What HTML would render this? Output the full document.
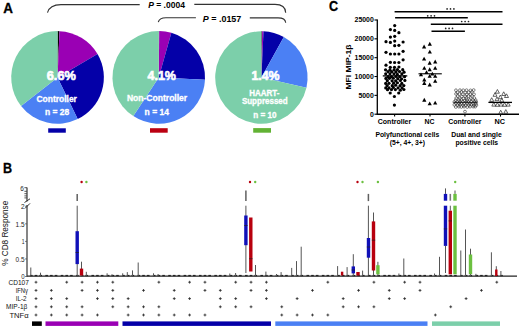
<!DOCTYPE html><html><head><meta charset="utf-8"><style>html,body{margin:0;padding:0;background:#fff;width:520px;height:330px;overflow:hidden}svg{display:block}</style></head><body><svg width="520" height="330" viewBox="0 0 520 330" font-family='"Liberation Sans", sans-serif'>
<rect width="520" height="330" fill="#fff"/>
<text x="3.3" y="12.7" font-size="14.6" text-anchor="start" font-weight="bold" fill="#000" textLength="9.7" lengthAdjust="spacingAndGlyphs" stroke="#000" stroke-width="0.3">A</text>
<path d="M47.5,12.7 C49,7 53,4.6 61,4.6 L139.7,4.6" fill="none" stroke="#333" stroke-width="1.1"/>
<path d="M194.3,4.4 L275,4.4 C281,4.4 285.5,7 285.7,12.7" fill="none" stroke="#333" stroke-width="1.1"/>
<path d="M158.3,22.2 C159,19 161,17.7 166,17.7 L195.9,17.7" fill="none" stroke="#333" stroke-width="1.1"/>
<path d="M249.8,17.9 L278,17.9 C283,17.9 285.5,20 285.7,22.8" fill="none" stroke="#333" stroke-width="1.1"/>
<text x="148.2" y="7.8" font-size="8.5" font-weight="bold" textLength="36.7" lengthAdjust="spacingAndGlyphs"><tspan font-style="italic">P</tspan> = .0004</text>
<text x="202.8" y="22.2" font-size="8.5" font-weight="bold" textLength="38.5" lengthAdjust="spacingAndGlyphs"><tspan font-style="italic">P</tspan> = .0157</text>
<path d="M57.55,77.40 L57.55,31.10 A46.3,46.3 0 0 1 59.49,31.14 Z" fill="#000"/>
<path d="M57.55,77.40 L59.49,31.14 A46.3,46.3 0 0 1 97.53,54.04 Z" fill="#9A00B4"/>
<path d="M57.55,77.40 L97.53,54.04 A46.3,46.3 0 0 1 77.70,119.08 Z" fill="#0400A8"/>
<path d="M57.55,77.40 L77.70,119.08 A46.3,46.3 0 0 1 21.07,105.91 Z" fill="#4B80F4"/>
<path d="M57.55,77.40 L21.07,105.91 A46.3,46.3 0 0 1 57.55,31.10 Z" fill="#7CCFAA"/>
<path d="M158.75,77.40 L158.75,31.10 A46.3,46.3 0 0 1 159.23,31.10 Z" fill="#222"/>
<path d="M158.75,77.40 L159.23,31.10 A46.3,46.3 0 0 1 171.36,32.85 Z" fill="#9A00B4"/>
<path d="M158.75,77.40 L171.36,32.85 A46.3,46.3 0 0 1 204.99,79.82 Z" fill="#0400A8"/>
<path d="M158.75,77.40 L204.99,79.82 A46.3,46.3 0 0 1 133.33,116.10 Z" fill="#4B80F4"/>
<path d="M158.75,77.40 L133.33,116.10 A46.3,46.3 0 0 1 158.75,31.10 Z" fill="#7CCFAA"/>
<path d="M261.40,77.50 L261.40,31.30 A46.2,46.2 0 0 1 262.13,31.31 Z" fill="#000"/>
<path d="M261.40,77.50 L262.13,31.31 A46.2,46.2 0 0 1 263.50,31.35 Z" fill="#9A00B4"/>
<path d="M261.40,77.50 L263.50,31.35 A46.2,46.2 0 0 1 283.80,37.09 Z" fill="#0400A8"/>
<path d="M261.40,77.50 L283.80,37.09 A46.2,46.2 0 0 1 306.45,87.74 Z" fill="#4B80F4"/>
<path d="M261.40,77.50 L306.45,87.74 A46.2,46.2 0 1 1 261.40,31.30 Z" fill="#7CCFAA"/>
<text x="46.8" y="79.9" font-size="13.5" text-anchor="start" font-weight="bold" fill="#fff" textLength="29" lengthAdjust="spacingAndGlyphs" stroke="#fff" stroke-width="0.65">6.6%</text>
<text x="36.5" y="101.5" font-size="8.5" text-anchor="start" font-weight="bold" fill="#fff" textLength="40.4" lengthAdjust="spacingAndGlyphs" stroke="#fff" stroke-width="0.3">Controller</text>
<text x="45" y="115.4" font-size="8.5" text-anchor="start" font-weight="bold" fill="#fff" textLength="24.2" lengthAdjust="spacingAndGlyphs" stroke="#fff" stroke-width="0.3">n = 28</text>
<text x="147.5" y="79.5" font-size="13.5" text-anchor="start" font-weight="bold" fill="#fff" textLength="28.4" lengthAdjust="spacingAndGlyphs" stroke="#fff" stroke-width="0.65">4.1%</text>
<text x="126.9" y="101.2" font-size="8.5" text-anchor="start" font-weight="bold" fill="#fff" textLength="60.3" lengthAdjust="spacingAndGlyphs" stroke="#fff" stroke-width="0.3">Non-Controller</text>
<text x="144.6" y="115" font-size="8.5" text-anchor="start" font-weight="bold" fill="#fff" textLength="24.3" lengthAdjust="spacingAndGlyphs" stroke="#fff" stroke-width="0.3">n = 14</text>
<text x="251.4" y="79.5" font-size="13.5" text-anchor="start" font-weight="bold" fill="#fff" textLength="28.1" lengthAdjust="spacingAndGlyphs" stroke="#fff" stroke-width="0.65">1.4%</text>
<text x="249.2" y="95.9" font-size="8.5" text-anchor="start" font-weight="bold" fill="#fff" textLength="30.3" lengthAdjust="spacingAndGlyphs" stroke="#fff" stroke-width="0.3">HAART-</text>
<text x="241.9" y="104.1" font-size="8.5" text-anchor="start" font-weight="bold" fill="#fff" textLength="45.8" lengthAdjust="spacingAndGlyphs" stroke="#fff" stroke-width="0.3">Suppressed</text>
<text x="253.2" y="118" font-size="8.5" text-anchor="start" font-weight="bold" fill="#fff" textLength="23.3" lengthAdjust="spacingAndGlyphs" stroke="#fff" stroke-width="0.3">n = 10</text>
<rect x="48.2" y="128.3" width="17.6" height="4.4" fill="#0400A8"/>
<rect x="150" y="128.2" width="17.7" height="4.5" fill="#BB0012"/>
<rect x="253.2" y="128.1" width="17.8" height="4.6" fill="#62B234"/>
<text x="328.9" y="11.3" font-size="14.4" text-anchor="start" font-weight="bold" fill="#000" textLength="9.1" lengthAdjust="spacingAndGlyphs" stroke="#000" stroke-width="0.3">C</text>
<line x1="377.3" y1="19.5" x2="377.3" y2="114.6" stroke="#000" stroke-width="1.3"/>
<line x1="376.7" y1="114.2" x2="519" y2="114.2" stroke="#000" stroke-width="1.4"/>
<line x1="374.5" y1="114.20" x2="377.3" y2="114.20" stroke="#000" stroke-width="1.1"/>
<text x="373.8" y="116.5" font-size="6.6" text-anchor="end" font-weight="bold" fill="#000" textLength="3.85" lengthAdjust="spacingAndGlyphs" >0</text>
<line x1="374.5" y1="95.36" x2="377.3" y2="95.36" stroke="#000" stroke-width="1.1"/>
<text x="373.8" y="97.66" font-size="6.6" text-anchor="end" font-weight="bold" fill="#000" textLength="15.4" lengthAdjust="spacingAndGlyphs" >5000</text>
<line x1="374.5" y1="76.52" x2="377.3" y2="76.52" stroke="#000" stroke-width="1.1"/>
<text x="373.8" y="78.82000000000001" font-size="6.6" text-anchor="end" font-weight="bold" fill="#000" textLength="19.25" lengthAdjust="spacingAndGlyphs" >10000</text>
<line x1="374.5" y1="57.68" x2="377.3" y2="57.68" stroke="#000" stroke-width="1.1"/>
<text x="373.8" y="59.98" font-size="6.6" text-anchor="end" font-weight="bold" fill="#000" textLength="19.25" lengthAdjust="spacingAndGlyphs" >15000</text>
<line x1="374.5" y1="38.84" x2="377.3" y2="38.84" stroke="#000" stroke-width="1.1"/>
<text x="373.8" y="41.14" font-size="6.6" text-anchor="end" font-weight="bold" fill="#000" textLength="19.25" lengthAdjust="spacingAndGlyphs" >20000</text>
<line x1="374.5" y1="20.00" x2="377.3" y2="20.00" stroke="#000" stroke-width="1.1"/>
<text x="373.8" y="22.3" font-size="6.6" text-anchor="end" font-weight="bold" fill="#000" textLength="19.25" lengthAdjust="spacingAndGlyphs" >25000</text>
<line x1="394.6" y1="114.2" x2="394.6" y2="116.6" stroke="#000" stroke-width="1.1"/>
<line x1="430" y1="114.2" x2="430" y2="116.6" stroke="#000" stroke-width="1.1"/>
<line x1="464.9" y1="114.2" x2="464.9" y2="116.6" stroke="#000" stroke-width="1.1"/>
<line x1="500.5" y1="114.2" x2="500.5" y2="116.6" stroke="#000" stroke-width="1.1"/>
<text x="350.6" y="67" font-size="7.4" text-anchor="middle" font-weight="bold" fill="#000" textLength="45" lengthAdjust="spacingAndGlyphs" transform="rotate(-90 350.6 67)">MFI  MIP-1β</text>
<text x="394.5" y="123.5" font-size="7" text-anchor="middle" font-weight="bold" fill="#000" textLength="33.5" lengthAdjust="spacingAndGlyphs" >Controller</text>
<text x="429.6" y="123.5" font-size="7" text-anchor="middle" font-weight="bold" fill="#000" textLength="10" lengthAdjust="spacingAndGlyphs" >NC</text>
<text x="464.9" y="123.6" font-size="7" text-anchor="middle" font-weight="bold" fill="#000" textLength="33.3" lengthAdjust="spacingAndGlyphs" >Controller</text>
<text x="499.8" y="123.6" font-size="7" text-anchor="middle" font-weight="bold" fill="#000" textLength="10.5" lengthAdjust="spacingAndGlyphs" >NC</text>
<text x="407.3" y="137" font-size="7" text-anchor="middle" font-weight="bold" fill="#000" textLength="63.8" lengthAdjust="spacingAndGlyphs" >Polyfunctional cells</text>
<text x="407.3" y="144.6" font-size="7" text-anchor="middle" font-weight="bold" fill="#000" textLength="35.3" lengthAdjust="spacingAndGlyphs" >(5+, 4+, 3+)</text>
<text x="476.5" y="136.9" font-size="7" text-anchor="middle" font-weight="bold" fill="#000" textLength="50.5" lengthAdjust="spacingAndGlyphs" >Dual and single</text>
<text x="476.8" y="144.6" font-size="7" text-anchor="middle" font-weight="bold" fill="#000" textLength="42.7" lengthAdjust="spacingAndGlyphs" >positive cells</text>
<line x1="394.6" y1="11.8" x2="502.5" y2="11.8" stroke="#000" stroke-width="1.5"/>
<circle cx="447.10" cy="8.9" r="0.85" fill="#222"/>
<circle cx="450.50" cy="8.9" r="0.85" fill="#222"/>
<circle cx="453.90" cy="8.9" r="0.85" fill="#222"/>
<line x1="395.1" y1="17.8" x2="467.8" y2="17.8" stroke="#000" stroke-width="1.5"/>
<circle cx="427.70" cy="15.8" r="0.85" fill="#222"/>
<circle cx="431.10" cy="15.8" r="0.85" fill="#222"/>
<circle cx="434.50" cy="15.8" r="0.85" fill="#222"/>
<line x1="430.8" y1="24.2" x2="502.5" y2="24.2" stroke="#000" stroke-width="1.5"/>
<circle cx="461.70" cy="21.5" r="0.85" fill="#222"/>
<circle cx="465.10" cy="21.5" r="0.85" fill="#222"/>
<circle cx="468.50" cy="21.5" r="0.85" fill="#222"/>
<line x1="431.5" y1="31.2" x2="464.9" y2="31.2" stroke="#000" stroke-width="1.5"/>
<circle cx="445.70" cy="28.4" r="0.85" fill="#222"/>
<circle cx="449.10" cy="28.4" r="0.85" fill="#222"/>
<circle cx="452.50" cy="28.4" r="0.85" fill="#222"/>
<circle cx="394.70" cy="25.60" r="1.6" fill="#000"/>
<circle cx="390.40" cy="29.60" r="1.6" fill="#000"/>
<circle cx="394.70" cy="30.40" r="1.6" fill="#000"/>
<circle cx="398.90" cy="32.70" r="1.6" fill="#000"/>
<circle cx="390.40" cy="37.10" r="1.6" fill="#000"/>
<circle cx="394.70" cy="36.30" r="1.6" fill="#000"/>
<circle cx="386.00" cy="41.70" r="1.6" fill="#000"/>
<circle cx="390.40" cy="42.40" r="1.6" fill="#000"/>
<circle cx="394.70" cy="41.10" r="1.6" fill="#000"/>
<circle cx="403.10" cy="42.00" r="1.6" fill="#000"/>
<circle cx="394.70" cy="45.70" r="1.6" fill="#000"/>
<circle cx="398.90" cy="45.30" r="1.6" fill="#000"/>
<circle cx="386.00" cy="52.30" r="1.6" fill="#000"/>
<circle cx="390.40" cy="54.00" r="1.6" fill="#000"/>
<circle cx="394.70" cy="54.00" r="1.6" fill="#000"/>
<circle cx="398.90" cy="54.00" r="1.6" fill="#000"/>
<circle cx="403.10" cy="51.30" r="1.6" fill="#000"/>
<circle cx="390.40" cy="62.30" r="1.6" fill="#000"/>
<circle cx="394.60" cy="62.50" r="1.6" fill="#000"/>
<circle cx="398.90" cy="62.50" r="1.6" fill="#000"/>
<circle cx="403.10" cy="59.80" r="1.6" fill="#000"/>
<circle cx="386.00" cy="65.20" r="1.6" fill="#000"/>
<circle cx="390.30" cy="67.30" r="1.6" fill="#000"/>
<circle cx="394.50" cy="67.30" r="1.6" fill="#000"/>
<circle cx="398.90" cy="67.00" r="1.6" fill="#000"/>
<circle cx="390.20" cy="93.00" r="1.6" fill="#000"/>
<circle cx="398.70" cy="93.00" r="1.6" fill="#000"/>
<circle cx="394.40" cy="96.50" r="1.6" fill="#000"/>
<circle cx="394.40" cy="105.10" r="1.6" fill="#000"/>
<circle cx="385.55" cy="69.79" r="1.6" fill="#000"/>
<circle cx="389.95" cy="69.95" r="1.6" fill="#000"/>
<circle cx="394.09" cy="69.94" r="1.6" fill="#000"/>
<circle cx="397.43" cy="69.57" r="1.6" fill="#000"/>
<circle cx="402.73" cy="69.72" r="1.6" fill="#000"/>
<circle cx="387.98" cy="71.54" r="1.6" fill="#000"/>
<circle cx="391.66" cy="71.65" r="1.6" fill="#000"/>
<circle cx="395.95" cy="71.91" r="1.6" fill="#000"/>
<circle cx="399.52" cy="71.62" r="1.6" fill="#000"/>
<circle cx="404.04" cy="72.18" r="1.6" fill="#000"/>
<circle cx="385.72" cy="73.83" r="1.6" fill="#000"/>
<circle cx="389.96" cy="73.81" r="1.6" fill="#000"/>
<circle cx="393.94" cy="73.80" r="1.6" fill="#000"/>
<circle cx="397.40" cy="74.40" r="1.6" fill="#000"/>
<circle cx="401.85" cy="73.87" r="1.6" fill="#000"/>
<circle cx="388.08" cy="76.65" r="1.6" fill="#000"/>
<circle cx="391.45" cy="76.72" r="1.6" fill="#000"/>
<circle cx="395.95" cy="76.49" r="1.6" fill="#000"/>
<circle cx="399.75" cy="76.70" r="1.6" fill="#000"/>
<circle cx="404.53" cy="76.72" r="1.6" fill="#000"/>
<circle cx="385.87" cy="78.44" r="1.6" fill="#000"/>
<circle cx="389.43" cy="78.33" r="1.6" fill="#000"/>
<circle cx="393.37" cy="78.25" r="1.6" fill="#000"/>
<circle cx="397.76" cy="78.68" r="1.6" fill="#000"/>
<circle cx="401.60" cy="78.74" r="1.6" fill="#000"/>
<circle cx="387.31" cy="80.70" r="1.6" fill="#000"/>
<circle cx="392.08" cy="80.83" r="1.6" fill="#000"/>
<circle cx="395.68" cy="80.83" r="1.6" fill="#000"/>
<circle cx="400.35" cy="80.50" r="1.6" fill="#000"/>
<circle cx="404.87" cy="80.47" r="1.6" fill="#000"/>
<circle cx="385.70" cy="83.38" r="1.6" fill="#000"/>
<circle cx="389.02" cy="83.33" r="1.6" fill="#000"/>
<circle cx="393.64" cy="83.16" r="1.6" fill="#000"/>
<circle cx="397.41" cy="82.74" r="1.6" fill="#000"/>
<circle cx="401.82" cy="83.46" r="1.6" fill="#000"/>
<circle cx="387.14" cy="85.55" r="1.6" fill="#000"/>
<circle cx="392.22" cy="85.70" r="1.6" fill="#000"/>
<circle cx="395.71" cy="85.23" r="1.6" fill="#000"/>
<circle cx="400.13" cy="85.57" r="1.6" fill="#000"/>
<circle cx="403.83" cy="85.55" r="1.6" fill="#000"/>
<circle cx="385.76" cy="87.89" r="1.6" fill="#000"/>
<circle cx="389.04" cy="87.96" r="1.6" fill="#000"/>
<circle cx="393.31" cy="87.47" r="1.6" fill="#000"/>
<circle cx="398.13" cy="87.93" r="1.6" fill="#000"/>
<circle cx="402.01" cy="87.94" r="1.6" fill="#000"/>
<circle cx="387.55" cy="89.70" r="1.6" fill="#000"/>
<circle cx="391.48" cy="89.59" r="1.6" fill="#000"/>
<circle cx="395.39" cy="89.57" r="1.6" fill="#000"/>
<circle cx="400.33" cy="90.25" r="1.6" fill="#000"/>
<circle cx="403.89" cy="89.49" r="1.6" fill="#000"/>
<line x1="382.8" y1="75.9" x2="407.3" y2="75.9" stroke="#000" stroke-width="1.3"/>
<path d="M429.80,41.80 L431.90,45.68 L427.70,45.68 Z" fill="#000"/>
<path d="M424.10,44.50 L426.20,48.38 L422.00,48.38 Z" fill="#000"/>
<path d="M429.80,49.70 L431.90,53.58 L427.70,53.58 Z" fill="#000"/>
<path d="M424.10,56.70 L426.20,60.58 L422.00,60.58 Z" fill="#000"/>
<path d="M429.70,60.80 L431.80,64.69 L427.60,64.69 Z" fill="#000"/>
<path d="M435.20,59.60 L437.30,63.48 L433.10,63.48 Z" fill="#000"/>
<path d="M424.30,65.90 L426.40,69.78 L422.20,69.78 Z" fill="#000"/>
<path d="M429.70,67.30 L431.80,71.19 L427.60,71.19 Z" fill="#000"/>
<path d="M435.20,65.90 L437.30,69.78 L433.10,69.78 Z" fill="#000"/>
<path d="M426.50,70.20 L428.60,74.08 L424.40,74.08 Z" fill="#000"/>
<path d="M432.30,71.70 L434.40,75.58 L430.20,75.58 Z" fill="#000"/>
<path d="M429.70,73.90 L431.80,77.78 L427.60,77.78 Z" fill="#000"/>
<path d="M435.20,73.90 L437.30,77.78 L433.10,77.78 Z" fill="#000"/>
<path d="M424.30,77.50 L426.40,81.38 L422.20,81.38 Z" fill="#000"/>
<path d="M435.20,78.90 L437.30,82.78 L433.10,82.78 Z" fill="#000"/>
<path d="M424.30,81.10 L426.40,84.98 L422.20,84.98 Z" fill="#000"/>
<path d="M429.70,82.60 L431.80,86.48 L427.60,86.48 Z" fill="#000"/>
<path d="M424.30,97.80 L426.40,101.69 L422.20,101.69 Z" fill="#000"/>
<path d="M429.70,101.40 L431.80,105.28 L427.60,105.28 Z" fill="#000"/>
<path d="M435.20,100.70 L437.30,104.58 L433.10,104.58 Z" fill="#000"/>
<path d="M421.00,72.40 L423.10,76.28 L418.90,76.28 Z" fill="#000"/>
<line x1="418.5" y1="73.8" x2="441.8" y2="73.8" stroke="#000" stroke-width="1.1"/>
<circle cx="455.96" cy="90.24" r="1.4" fill="none" stroke="#333" stroke-width="0.6"/>
<circle cx="459.94" cy="90.18" r="1.4" fill="none" stroke="#333" stroke-width="0.6"/>
<circle cx="463.21" cy="90.25" r="1.4" fill="none" stroke="#333" stroke-width="0.6"/>
<circle cx="466.55" cy="90.21" r="1.4" fill="none" stroke="#333" stroke-width="0.6"/>
<circle cx="470.50" cy="90.38" r="1.4" fill="none" stroke="#333" stroke-width="0.6"/>
<circle cx="473.68" cy="90.08" r="1.4" fill="none" stroke="#333" stroke-width="0.6"/>
<circle cx="457.47" cy="92.39" r="1.4" fill="none" stroke="#333" stroke-width="0.6"/>
<circle cx="461.55" cy="91.93" r="1.4" fill="none" stroke="#333" stroke-width="0.6"/>
<circle cx="465.39" cy="92.48" r="1.4" fill="none" stroke="#333" stroke-width="0.6"/>
<circle cx="468.72" cy="92.27" r="1.4" fill="none" stroke="#333" stroke-width="0.6"/>
<circle cx="471.93" cy="91.91" r="1.4" fill="none" stroke="#333" stroke-width="0.6"/>
<circle cx="456.02" cy="93.94" r="1.4" fill="none" stroke="#333" stroke-width="0.6"/>
<circle cx="459.35" cy="94.05" r="1.4" fill="none" stroke="#333" stroke-width="0.6"/>
<circle cx="462.82" cy="94.18" r="1.4" fill="none" stroke="#333" stroke-width="0.6"/>
<circle cx="466.75" cy="94.41" r="1.4" fill="none" stroke="#333" stroke-width="0.6"/>
<circle cx="470.42" cy="94.28" r="1.4" fill="none" stroke="#333" stroke-width="0.6"/>
<circle cx="474.00" cy="94.30" r="1.4" fill="none" stroke="#333" stroke-width="0.6"/>
<circle cx="457.77" cy="96.07" r="1.4" fill="none" stroke="#333" stroke-width="0.6"/>
<circle cx="461.80" cy="96.50" r="1.4" fill="none" stroke="#333" stroke-width="0.6"/>
<circle cx="465.27" cy="96.32" r="1.4" fill="none" stroke="#333" stroke-width="0.6"/>
<circle cx="468.45" cy="96.04" r="1.4" fill="none" stroke="#333" stroke-width="0.6"/>
<circle cx="472.03" cy="95.94" r="1.4" fill="none" stroke="#333" stroke-width="0.6"/>
<circle cx="456.21" cy="98.14" r="1.4" fill="none" stroke="#333" stroke-width="0.6"/>
<circle cx="459.88" cy="98.13" r="1.4" fill="none" stroke="#333" stroke-width="0.6"/>
<circle cx="463.57" cy="98.41" r="1.4" fill="none" stroke="#333" stroke-width="0.6"/>
<circle cx="466.40" cy="98.03" r="1.4" fill="none" stroke="#333" stroke-width="0.6"/>
<circle cx="470.73" cy="98.18" r="1.4" fill="none" stroke="#333" stroke-width="0.6"/>
<circle cx="474.38" cy="98.14" r="1.4" fill="none" stroke="#333" stroke-width="0.6"/>
<circle cx="455.66" cy="100.28" r="1.4" fill="none" stroke="#333" stroke-width="0.6"/>
<circle cx="459.02" cy="100.06" r="1.4" fill="none" stroke="#333" stroke-width="0.6"/>
<circle cx="461.27" cy="100.10" r="1.4" fill="none" stroke="#333" stroke-width="0.6"/>
<circle cx="464.77" cy="100.35" r="1.4" fill="none" stroke="#333" stroke-width="0.6"/>
<circle cx="466.89" cy="100.05" r="1.4" fill="none" stroke="#333" stroke-width="0.6"/>
<circle cx="469.68" cy="99.94" r="1.4" fill="none" stroke="#333" stroke-width="0.6"/>
<circle cx="473.04" cy="100.01" r="1.4" fill="none" stroke="#333" stroke-width="0.6"/>
<circle cx="475.65" cy="100.17" r="1.4" fill="none" stroke="#333" stroke-width="0.6"/>
<circle cx="454.35" cy="101.94" r="1.4" fill="none" stroke="#333" stroke-width="0.6"/>
<circle cx="457.10" cy="101.89" r="1.4" fill="none" stroke="#333" stroke-width="0.6"/>
<circle cx="459.89" cy="101.75" r="1.4" fill="none" stroke="#333" stroke-width="0.6"/>
<circle cx="462.77" cy="101.66" r="1.4" fill="none" stroke="#333" stroke-width="0.6"/>
<circle cx="466.18" cy="101.98" r="1.4" fill="none" stroke="#333" stroke-width="0.6"/>
<circle cx="468.44" cy="102.03" r="1.4" fill="none" stroke="#333" stroke-width="0.6"/>
<circle cx="471.17" cy="101.74" r="1.4" fill="none" stroke="#333" stroke-width="0.6"/>
<circle cx="474.48" cy="101.89" r="1.4" fill="none" stroke="#333" stroke-width="0.6"/>
<circle cx="476.28" cy="102.09" r="1.4" fill="none" stroke="#333" stroke-width="0.6"/>
<circle cx="455.77" cy="103.25" r="1.4" fill="none" stroke="#333" stroke-width="0.6"/>
<circle cx="459.02" cy="103.30" r="1.4" fill="none" stroke="#333" stroke-width="0.6"/>
<circle cx="461.44" cy="103.14" r="1.4" fill="none" stroke="#333" stroke-width="0.6"/>
<circle cx="464.07" cy="103.45" r="1.4" fill="none" stroke="#333" stroke-width="0.6"/>
<circle cx="466.99" cy="103.46" r="1.4" fill="none" stroke="#333" stroke-width="0.6"/>
<circle cx="469.90" cy="103.37" r="1.4" fill="none" stroke="#333" stroke-width="0.6"/>
<circle cx="473.17" cy="103.39" r="1.4" fill="none" stroke="#333" stroke-width="0.6"/>
<circle cx="475.66" cy="103.62" r="1.4" fill="none" stroke="#333" stroke-width="0.6"/>
<circle cx="454.35" cy="104.79" r="1.4" fill="none" stroke="#333" stroke-width="0.6"/>
<circle cx="457.73" cy="105.19" r="1.4" fill="none" stroke="#333" stroke-width="0.6"/>
<circle cx="460.00" cy="104.81" r="1.4" fill="none" stroke="#333" stroke-width="0.6"/>
<circle cx="463.19" cy="105.26" r="1.4" fill="none" stroke="#333" stroke-width="0.6"/>
<circle cx="465.56" cy="105.27" r="1.4" fill="none" stroke="#333" stroke-width="0.6"/>
<circle cx="468.91" cy="105.06" r="1.4" fill="none" stroke="#333" stroke-width="0.6"/>
<circle cx="471.34" cy="104.76" r="1.4" fill="none" stroke="#333" stroke-width="0.6"/>
<circle cx="473.83" cy="105.28" r="1.4" fill="none" stroke="#333" stroke-width="0.6"/>
<circle cx="476.39" cy="105.12" r="1.4" fill="none" stroke="#333" stroke-width="0.6"/>
<circle cx="455.81" cy="106.99" r="1.4" fill="none" stroke="#333" stroke-width="0.6"/>
<circle cx="458.88" cy="106.68" r="1.4" fill="none" stroke="#333" stroke-width="0.6"/>
<circle cx="461.34" cy="106.93" r="1.4" fill="none" stroke="#333" stroke-width="0.6"/>
<circle cx="464.06" cy="106.64" r="1.4" fill="none" stroke="#333" stroke-width="0.6"/>
<circle cx="467.25" cy="107.01" r="1.4" fill="none" stroke="#333" stroke-width="0.6"/>
<circle cx="470.09" cy="106.67" r="1.4" fill="none" stroke="#333" stroke-width="0.6"/>
<circle cx="473.13" cy="106.62" r="1.4" fill="none" stroke="#333" stroke-width="0.6"/>
<circle cx="475.21" cy="106.66" r="1.4" fill="none" stroke="#333" stroke-width="0.6"/>
<circle cx="465.00" cy="111.60" r="1.4" fill="none" stroke="#333" stroke-width="0.6"/>
<line x1="453.5" y1="102.4" x2="477" y2="102.4" stroke="#222" stroke-width="1.0"/>
<path d="M497.40,89.50 L499.40,93.20 L495.40,93.20 Z" fill="none" stroke="#333" stroke-width="0.75"/>
<path d="M495.00,92.60 L497.00,96.30 L493.00,96.30 Z" fill="none" stroke="#333" stroke-width="0.75"/>
<path d="M503.70,91.80 L505.70,95.50 L501.70,95.50 Z" fill="none" stroke="#333" stroke-width="0.75"/>
<path d="M506.50,93.80 L508.50,97.50 L504.50,97.50 Z" fill="none" stroke="#333" stroke-width="0.75"/>
<path d="M500.30,95.00 L502.30,98.70 L498.30,98.70 Z" fill="none" stroke="#333" stroke-width="0.75"/>
<path d="M491.70,97.70 L493.70,101.40 L489.70,101.40 Z" fill="none" stroke="#333" stroke-width="0.75"/>
<path d="M501.80,98.20 L503.80,101.90 L499.80,101.90 Z" fill="none" stroke="#333" stroke-width="0.75"/>
<path d="M497.00,97.00 L499.00,100.70 L495.00,100.70 Z" fill="none" stroke="#333" stroke-width="0.75"/>
<path d="M493.80,102.40 L495.80,106.10 L491.80,106.10 Z" fill="none" stroke="#333" stroke-width="0.75"/>
<path d="M497.40,102.60 L499.40,106.30 L495.40,106.30 Z" fill="none" stroke="#333" stroke-width="0.75"/>
<path d="M501.00,102.40 L503.00,106.10 L499.00,106.10 Z" fill="none" stroke="#333" stroke-width="0.75"/>
<path d="M504.60,102.60 L506.60,106.30 L502.60,106.30 Z" fill="none" stroke="#333" stroke-width="0.75"/>
<path d="M508.20,102.40 L510.20,106.10 L506.20,106.10 Z" fill="none" stroke="#333" stroke-width="0.75"/>
<path d="M500.70,110.20 L502.70,113.90 L498.70,113.90 Z" fill="none" stroke="#333" stroke-width="0.75"/>
<path d="M505.80,109.60 L507.80,113.30 L503.80,113.30 Z" fill="none" stroke="#333" stroke-width="0.75"/>
<line x1="488.4" y1="102.4" x2="512" y2="102.4" stroke="#000" stroke-width="1.3"/>
<text x="3.0" y="172.7" font-size="14.4" text-anchor="start" font-weight="bold" fill="#000" textLength="9.1" lengthAdjust="spacingAndGlyphs" stroke="#000" stroke-width="0.3">B</text>
<text x="7.8" y="233.3" font-size="8.8" text-anchor="middle" font-weight="normal" fill="#111" textLength="65" lengthAdjust="spacingAndGlyphs" transform="rotate(-90 7.8 233.3)">% CD8 Response</text>
<line x1="27" y1="187.5" x2="27" y2="201.5" stroke="#444" stroke-width="1.3"/>
<line x1="27" y1="205" x2="27" y2="276.5" stroke="#444" stroke-width="1.3"/>
<line x1="24.4" y1="187.7" x2="27" y2="187.7" stroke="#444" stroke-width="0.9"/>
<line x1="24.4" y1="191.3" x2="27" y2="191.3" stroke="#444" stroke-width="0.9"/>
<line x1="24.4" y1="193.7" x2="27" y2="193.7" stroke="#444" stroke-width="0.9"/>
<line x1="24.4" y1="195.9" x2="27" y2="195.9" stroke="#444" stroke-width="0.9"/>
<line x1="24.4" y1="197.9" x2="27" y2="197.9" stroke="#444" stroke-width="0.9"/>
<line x1="24.5" y1="202.5" x2="30" y2="198.8" stroke="#333" stroke-width="1"/>
<line x1="25" y1="208.4" x2="30" y2="203.4" stroke="#333" stroke-width="1"/>
<line x1="25.2" y1="276.50" x2="27" y2="276.50" stroke="#555" stroke-width="0.9"/>
<text x="24.6" y="279.2" font-size="7.6" text-anchor="end" font-weight="normal" fill="#222" textLength="3.4" lengthAdjust="spacingAndGlyphs" >0</text>
<line x1="25.2" y1="258.95" x2="27" y2="258.95" stroke="#555" stroke-width="0.9"/>
<text x="24.6" y="261.65" font-size="7.6" text-anchor="end" font-weight="normal" fill="#222" textLength="9" lengthAdjust="spacingAndGlyphs" >0.5</text>
<line x1="25.2" y1="241.40" x2="27" y2="241.40" stroke="#555" stroke-width="0.9"/>
<text x="24.6" y="244.1" font-size="7.6" text-anchor="end" font-weight="normal" fill="#222" textLength="2.8" lengthAdjust="spacingAndGlyphs" >1</text>
<line x1="25.2" y1="223.85" x2="27" y2="223.85" stroke="#555" stroke-width="0.9"/>
<text x="24.6" y="226.54999999999998" font-size="7.6" text-anchor="end" font-weight="normal" fill="#222" textLength="9" lengthAdjust="spacingAndGlyphs" >1.5</text>
<line x1="25.2" y1="206.30" x2="27" y2="206.30" stroke="#555" stroke-width="0.9"/>
<text x="24.6" y="209.0" font-size="7.6" text-anchor="end" font-weight="normal" fill="#222" textLength="3.6" lengthAdjust="spacingAndGlyphs" >2</text>
<text x="23.8" y="190.6" font-size="7.6" text-anchor="end" font-weight="normal" fill="#222" textLength="3.6" lengthAdjust="spacingAndGlyphs" >6</text>
<line x1="27" y1="276.1" x2="517" y2="276.1" stroke="#222" stroke-width="1.3"/>
<rect x="30.00" y="274.9" width="2.6" height="1.3" fill="#222"/>
<rect x="34.70" y="274.9" width="2.6" height="1.3" fill="#222"/>
<rect x="39.40" y="274.9" width="2.6" height="1.3" fill="#222"/>
<rect x="45.36" y="274.9" width="2.6" height="1.3" fill="#222"/>
<rect x="50.06" y="274.9" width="2.6" height="1.3" fill="#222"/>
<rect x="54.76" y="274.9" width="2.6" height="1.3" fill="#222"/>
<rect x="60.72" y="274.9" width="2.6" height="1.3" fill="#222"/>
<rect x="65.42" y="274.9" width="2.6" height="1.3" fill="#222"/>
<rect x="70.12" y="274.9" width="2.6" height="1.3" fill="#222"/>
<rect x="76.08" y="274.9" width="2.6" height="1.3" fill="#222"/>
<rect x="80.78" y="274.9" width="2.6" height="1.3" fill="#222"/>
<rect x="85.48" y="274.9" width="2.6" height="1.3" fill="#222"/>
<rect x="91.44" y="274.9" width="2.6" height="1.3" fill="#222"/>
<rect x="96.14" y="274.9" width="2.6" height="1.3" fill="#222"/>
<rect x="100.84" y="274.9" width="2.6" height="1.3" fill="#222"/>
<rect x="106.80" y="274.9" width="2.6" height="1.3" fill="#222"/>
<rect x="111.50" y="274.9" width="2.6" height="1.3" fill="#222"/>
<rect x="116.20" y="274.9" width="2.6" height="1.3" fill="#222"/>
<rect x="122.16" y="274.9" width="2.6" height="1.3" fill="#222"/>
<rect x="126.86" y="274.9" width="2.6" height="1.3" fill="#222"/>
<rect x="131.56" y="274.9" width="2.6" height="1.3" fill="#222"/>
<rect x="137.52" y="274.9" width="2.6" height="1.3" fill="#222"/>
<rect x="142.22" y="274.9" width="2.6" height="1.3" fill="#222"/>
<rect x="146.92" y="274.9" width="2.6" height="1.3" fill="#222"/>
<rect x="152.88" y="274.9" width="2.6" height="1.3" fill="#222"/>
<rect x="157.58" y="274.9" width="2.6" height="1.3" fill="#222"/>
<rect x="162.28" y="274.9" width="2.6" height="1.3" fill="#222"/>
<rect x="168.24" y="274.9" width="2.6" height="1.3" fill="#222"/>
<rect x="172.94" y="274.9" width="2.6" height="1.3" fill="#222"/>
<rect x="177.64" y="274.9" width="2.6" height="1.3" fill="#222"/>
<rect x="183.60" y="274.9" width="2.6" height="1.3" fill="#222"/>
<rect x="188.30" y="274.9" width="2.6" height="1.3" fill="#222"/>
<rect x="193.00" y="274.9" width="2.6" height="1.3" fill="#222"/>
<rect x="198.96" y="274.9" width="2.6" height="1.3" fill="#222"/>
<rect x="203.66" y="274.9" width="2.6" height="1.3" fill="#222"/>
<rect x="208.36" y="274.9" width="2.6" height="1.3" fill="#222"/>
<rect x="214.32" y="274.9" width="2.6" height="1.3" fill="#222"/>
<rect x="219.02" y="274.9" width="2.6" height="1.3" fill="#222"/>
<rect x="223.72" y="274.9" width="2.6" height="1.3" fill="#222"/>
<rect x="229.68" y="274.9" width="2.6" height="1.3" fill="#222"/>
<rect x="234.38" y="274.9" width="2.6" height="1.3" fill="#222"/>
<rect x="239.08" y="274.9" width="2.6" height="1.3" fill="#222"/>
<rect x="245.04" y="274.9" width="2.6" height="1.3" fill="#222"/>
<rect x="249.74" y="274.9" width="2.6" height="1.3" fill="#222"/>
<rect x="254.44" y="274.9" width="2.6" height="1.3" fill="#222"/>
<rect x="260.40" y="274.9" width="2.6" height="1.3" fill="#222"/>
<rect x="265.10" y="274.9" width="2.6" height="1.3" fill="#222"/>
<rect x="269.80" y="274.9" width="2.6" height="1.3" fill="#222"/>
<rect x="275.76" y="274.9" width="2.6" height="1.3" fill="#222"/>
<rect x="280.46" y="274.9" width="2.6" height="1.3" fill="#222"/>
<rect x="285.16" y="274.9" width="2.6" height="1.3" fill="#222"/>
<rect x="291.12" y="274.9" width="2.6" height="1.3" fill="#222"/>
<rect x="295.82" y="274.9" width="2.6" height="1.3" fill="#222"/>
<rect x="300.52" y="274.9" width="2.6" height="1.3" fill="#222"/>
<rect x="306.48" y="274.9" width="2.6" height="1.3" fill="#222"/>
<rect x="311.18" y="274.9" width="2.6" height="1.3" fill="#222"/>
<rect x="315.88" y="274.9" width="2.6" height="1.3" fill="#222"/>
<rect x="321.84" y="274.9" width="2.6" height="1.3" fill="#222"/>
<rect x="326.54" y="274.9" width="2.6" height="1.3" fill="#222"/>
<rect x="331.24" y="274.9" width="2.6" height="1.3" fill="#222"/>
<rect x="337.20" y="274.9" width="2.6" height="1.3" fill="#222"/>
<rect x="341.90" y="274.9" width="2.6" height="1.3" fill="#222"/>
<rect x="346.60" y="274.9" width="2.6" height="1.3" fill="#222"/>
<rect x="352.56" y="274.9" width="2.6" height="1.3" fill="#222"/>
<rect x="357.26" y="274.9" width="2.6" height="1.3" fill="#222"/>
<rect x="361.96" y="274.9" width="2.6" height="1.3" fill="#222"/>
<rect x="367.92" y="274.9" width="2.6" height="1.3" fill="#222"/>
<rect x="372.62" y="274.9" width="2.6" height="1.3" fill="#222"/>
<rect x="377.32" y="274.9" width="2.6" height="1.3" fill="#222"/>
<rect x="383.28" y="274.9" width="2.6" height="1.3" fill="#222"/>
<rect x="387.98" y="274.9" width="2.6" height="1.3" fill="#222"/>
<rect x="392.68" y="274.9" width="2.6" height="1.3" fill="#222"/>
<rect x="398.64" y="274.9" width="2.6" height="1.3" fill="#222"/>
<rect x="403.34" y="274.9" width="2.6" height="1.3" fill="#222"/>
<rect x="408.04" y="274.9" width="2.6" height="1.3" fill="#222"/>
<rect x="414.00" y="274.9" width="2.6" height="1.3" fill="#222"/>
<rect x="418.70" y="274.9" width="2.6" height="1.3" fill="#222"/>
<rect x="423.40" y="274.9" width="2.6" height="1.3" fill="#222"/>
<rect x="429.36" y="274.9" width="2.6" height="1.3" fill="#222"/>
<rect x="434.06" y="274.9" width="2.6" height="1.3" fill="#222"/>
<rect x="438.76" y="274.9" width="2.6" height="1.3" fill="#222"/>
<rect x="444.72" y="274.9" width="2.6" height="1.3" fill="#222"/>
<rect x="449.42" y="274.9" width="2.6" height="1.3" fill="#222"/>
<rect x="454.12" y="274.9" width="2.6" height="1.3" fill="#222"/>
<rect x="460.08" y="274.9" width="2.6" height="1.3" fill="#222"/>
<rect x="464.78" y="274.9" width="2.6" height="1.3" fill="#222"/>
<rect x="469.48" y="274.9" width="2.6" height="1.3" fill="#222"/>
<rect x="475.44" y="274.9" width="2.6" height="1.3" fill="#222"/>
<rect x="480.14" y="274.9" width="2.6" height="1.3" fill="#222"/>
<rect x="484.84" y="274.9" width="2.6" height="1.3" fill="#222"/>
<rect x="490.80" y="274.9" width="2.6" height="1.3" fill="#222"/>
<rect x="495.50" y="274.9" width="2.6" height="1.3" fill="#222"/>
<rect x="500.20" y="274.9" width="2.6" height="1.3" fill="#222"/>
<line x1="30.8" y1="267.5" x2="30.8" y2="276" stroke="#555" stroke-width="1.0"/>
<line x1="40.5" y1="272.7" x2="40.5" y2="276" stroke="#555" stroke-width="1.0"/>
<line x1="86.3" y1="271.8" x2="86.3" y2="276" stroke="#555" stroke-width="1.0"/>
<line x1="107.1" y1="273.3" x2="107.1" y2="276" stroke="#555" stroke-width="1.0"/>
<line x1="112" y1="274.3" x2="112" y2="276" stroke="#555" stroke-width="1.0"/>
<line x1="122.7" y1="273.3" x2="122.7" y2="276" stroke="#555" stroke-width="1.0"/>
<line x1="127.3" y1="272.1" x2="127.3" y2="276" stroke="#555" stroke-width="1.0"/>
<line x1="132.5" y1="270.4" x2="132.5" y2="276" stroke="#555" stroke-width="1.0"/>
<line x1="138.2" y1="262.5" x2="138.2" y2="276" stroke="#555" stroke-width="1.0"/>
<line x1="153.5" y1="273.3" x2="153.5" y2="276" stroke="#555" stroke-width="1.0"/>
<line x1="158.1" y1="274" x2="158.1" y2="276" stroke="#555" stroke-width="1.0"/>
<line x1="229.8" y1="273.5" x2="229.8" y2="276" stroke="#555" stroke-width="1.0"/>
<line x1="235.6" y1="273" x2="235.6" y2="276" stroke="#555" stroke-width="1.0"/>
<line x1="255.5" y1="265" x2="255.5" y2="276" stroke="#555" stroke-width="1.0"/>
<line x1="265.9" y1="271.6" x2="265.9" y2="276" stroke="#555" stroke-width="1.0"/>
<line x1="276.5" y1="274" x2="276.5" y2="276" stroke="#555" stroke-width="1.0"/>
<line x1="281.1" y1="272.1" x2="281.1" y2="276" stroke="#555" stroke-width="1.0"/>
<line x1="291.7" y1="267.9" x2="291.7" y2="276" stroke="#555" stroke-width="1.0"/>
<line x1="296.5" y1="261.1" x2="296.5" y2="276" stroke="#555" stroke-width="1.0"/>
<line x1="301.2" y1="246.7" x2="301.2" y2="276" stroke="#555" stroke-width="1.0"/>
<line x1="337.6" y1="266.1" x2="337.6" y2="276" stroke="#555" stroke-width="1.0"/>
<line x1="347.1" y1="267.1" x2="347.1" y2="276" stroke="#555" stroke-width="1.0"/>
<line x1="362.6" y1="270.6" x2="362.6" y2="276" stroke="#555" stroke-width="1.0"/>
<line x1="398.9" y1="273.5" x2="398.9" y2="276" stroke="#555" stroke-width="1.0"/>
<line x1="403.8" y1="258.5" x2="403.8" y2="276" stroke="#555" stroke-width="1.0"/>
<line x1="434.5" y1="273.5" x2="434.5" y2="276" stroke="#555" stroke-width="1.0"/>
<line x1="439.5" y1="256.8" x2="439.5" y2="276" stroke="#555" stroke-width="1.0"/>
<line x1="460.8" y1="250.5" x2="460.8" y2="276" stroke="#555" stroke-width="1.0"/>
<line x1="465.5" y1="229.5" x2="465.5" y2="276" stroke="#555" stroke-width="1.0"/>
<line x1="475.9" y1="273.8" x2="475.9" y2="276" stroke="#555" stroke-width="1.0"/>
<line x1="491.4" y1="252.3" x2="491.4" y2="276" stroke="#555" stroke-width="1.0"/>
<line x1="500.9" y1="271" x2="500.9" y2="276" stroke="#555" stroke-width="1.0"/>
<line x1="77.2" y1="193.9" x2="77.2" y2="200.9" stroke="#606060" stroke-width="1.5"/>
<line x1="77.2" y1="205.7" x2="77.2" y2="276" stroke="#555" stroke-width="1.0"/>
<rect x="75.50" y="231.2" width="3.4" height="32.90" fill="#1010B8"/>
<line x1="75.50" y1="252.5" x2="78.90" y2="252.5" stroke="#222" stroke-width="0.7"/>
<line x1="81.5" y1="261.7" x2="81.5" y2="276" stroke="#555" stroke-width="1.0"/>
<rect x="79.80" y="268.6" width="3.4" height="6.90" fill="#B8000E"/>
<line x1="245.9" y1="190.5" x2="245.9" y2="201.1" stroke="#606060" stroke-width="1.5"/>
<line x1="245.9" y1="205.7" x2="245.9" y2="273" stroke="#555" stroke-width="1.0"/>
<rect x="244.20" y="215.5" width="3.4" height="29.70" fill="#1010B8"/>
<line x1="244.20" y1="225.5" x2="247.60" y2="225.5" stroke="#222" stroke-width="0.7"/>
<rect x="249.10" y="217.5" width="3.4" height="54.00" fill="#B8000E"/>
<line x1="249.10" y1="258.7" x2="252.50" y2="258.7" stroke="#222" stroke-width="0.7"/>
<line x1="353.3" y1="254.2" x2="353.3" y2="276" stroke="#555" stroke-width="1.0"/>
<rect x="351.60" y="266.4" width="3.4" height="7.00" fill="#1010B8"/>
<line x1="351.60" y1="270" x2="355.00" y2="270" stroke="#222" stroke-width="0.7"/>
<rect x="356.30" y="272" width="3.4" height="3.50" fill="#B8000E"/>
<line x1="368.4" y1="193.9" x2="368.4" y2="201.1" stroke="#606060" stroke-width="1.5"/>
<line x1="368.4" y1="205.7" x2="368.4" y2="275.5" stroke="#555" stroke-width="1.0"/>
<rect x="366.80" y="238" width="3.4" height="19.70" fill="#1010B8"/>
<line x1="366.80" y1="247" x2="370.20" y2="247" stroke="#222" stroke-width="0.7"/>
<line x1="373.5" y1="212.5" x2="373.5" y2="275.5" stroke="#555" stroke-width="1.0"/>
<rect x="371.80" y="221.4" width="3.4" height="49.10" fill="#B8000E"/>
<line x1="371.80" y1="240.2" x2="375.20" y2="240.2" stroke="#222" stroke-width="0.7"/>
<line x1="377.9" y1="261.8" x2="377.9" y2="276" stroke="#555" stroke-width="1.0"/>
<rect x="376.20" y="265.2" width="3.4" height="9.10" fill="#6CC040"/>
<rect x="340.90" y="271.7" width="2.4" height="3.80" fill="#B8000E"/>
<line x1="445.5" y1="188.4" x2="445.5" y2="193.9" stroke="#555" stroke-width="1.0"/>
<rect x="443.80" y="193.9" width="3.4" height="6.80" fill="#1010B8"/>
<rect x="443.80" y="205.7" width="3.4" height="40.20" fill="#1010B8"/>
<line x1="443.80" y1="228.9" x2="447.20" y2="228.9" stroke="#222" stroke-width="0.7"/>
<line x1="445.5" y1="245.9" x2="445.5" y2="273" stroke="#555" stroke-width="1.0"/>
<line x1="450.3" y1="193.9" x2="450.3" y2="200.7" stroke="#777" stroke-width="1.6"/>
<line x1="450.3" y1="205.7" x2="450.3" y2="210.7" stroke="#555" stroke-width="1.0"/>
<rect x="448.60" y="210.7" width="3.4" height="63.60" fill="#B8000E"/>
<line x1="448.60" y1="220.9" x2="452.00" y2="220.9" stroke="#222" stroke-width="0.7"/>
<line x1="455" y1="190.5" x2="455" y2="193.9" stroke="#555" stroke-width="1.0"/>
<rect x="453.30" y="193.9" width="3.4" height="6.80" fill="#6CC040"/>
<rect x="453.30" y="205.7" width="3.4" height="68.60" fill="#6CC040"/>
<line x1="470.5" y1="248.7" x2="470.5" y2="276" stroke="#555" stroke-width="1.0"/>
<rect x="468.80" y="254.5" width="3.4" height="19.70" fill="#6CC040"/>
<line x1="496.3" y1="266.2" x2="496.3" y2="276" stroke="#555" stroke-width="1.0"/>
<rect x="495.10" y="269.5" width="2.4" height="6.50" fill="#B8000E"/>
<circle cx="81.6" cy="182" r="1.2" fill="#B8000E"/>
<circle cx="86.4" cy="182" r="1.2" fill="#6CC040"/>
<circle cx="250" cy="182" r="1.2" fill="#B8000E"/>
<circle cx="255.2" cy="182" r="1.2" fill="#6CC040"/>
<circle cx="357.5" cy="182" r="1.2" fill="#B8000E"/>
<circle cx="362.5" cy="182" r="1.2" fill="#6CC040"/>
<circle cx="377.9" cy="182" r="1.2" fill="#6CC040"/>
<circle cx="455.2" cy="182" r="1.2" fill="#6CC040"/>
<text x="28.9" y="284.7" font-size="6.9" text-anchor="end" font-weight="normal" fill="#111" textLength="20.4" lengthAdjust="spacingAndGlyphs" >CD107</text>
<text x="28" y="292.9" font-size="6.9" text-anchor="end" font-weight="normal" fill="#111" textLength="12.3" lengthAdjust="spacingAndGlyphs" >IFNγ</text>
<text x="26.6" y="301.1" font-size="6.9" text-anchor="end" font-weight="normal" fill="#111" textLength="10.9" lengthAdjust="spacingAndGlyphs" >IL-2</text>
<text x="27.3" y="309.3" font-size="6.9" text-anchor="end" font-weight="normal" fill="#111" textLength="21.2" lengthAdjust="spacingAndGlyphs" >MIP-1β</text>
<text x="28.6" y="317.5" font-size="6.9" text-anchor="end" font-weight="normal" fill="#111" textLength="19.1" lengthAdjust="spacingAndGlyphs" >TNFα</text>
<path d="M34.60,282.2 H37.40 M36.00,280.8 V283.59999999999997" stroke="#222" stroke-width="0.8"/>
<path d="M34.60,290.4 H37.40 M36.00,289.0 V291.79999999999995" stroke="#222" stroke-width="0.8"/>
<path d="M34.60,298.6 H37.40 M36.00,297.20000000000005 V300.0" stroke="#222" stroke-width="0.8"/>
<path d="M34.60,306.8 H37.40 M36.00,305.40000000000003 V308.2" stroke="#222" stroke-width="0.8"/>
<path d="M34.60,315 H37.40 M36.00,313.6 V316.4" stroke="#222" stroke-width="0.8"/>
<path d="M49.96,290.4 H52.76 M51.36,289.0 V291.79999999999995" stroke="#222" stroke-width="0.8"/>
<path d="M49.96,298.6 H52.76 M51.36,297.20000000000005 V300.0" stroke="#222" stroke-width="0.8"/>
<path d="M49.96,306.8 H52.76 M51.36,305.40000000000003 V308.2" stroke="#222" stroke-width="0.8"/>
<path d="M49.96,315 H52.76 M51.36,313.6 V316.4" stroke="#222" stroke-width="0.8"/>
<path d="M65.32,282.2 H68.12 M66.72,280.8 V283.59999999999997" stroke="#222" stroke-width="0.8"/>
<path d="M65.32,298.6 H68.12 M66.72,297.20000000000005 V300.0" stroke="#222" stroke-width="0.8"/>
<path d="M65.32,306.8 H68.12 M66.72,305.40000000000003 V308.2" stroke="#222" stroke-width="0.8"/>
<path d="M65.32,315 H68.12 M66.72,313.6 V316.4" stroke="#222" stroke-width="0.8"/>
<path d="M80.68,282.2 H83.48 M82.08,280.8 V283.59999999999997" stroke="#222" stroke-width="0.8"/>
<path d="M80.68,290.4 H83.48 M82.08,289.0 V291.79999999999995" stroke="#222" stroke-width="0.8"/>
<path d="M80.68,306.8 H83.48 M82.08,305.40000000000003 V308.2" stroke="#222" stroke-width="0.8"/>
<path d="M80.68,315 H83.48 M82.08,313.6 V316.4" stroke="#222" stroke-width="0.8"/>
<path d="M96.04,282.2 H98.84 M97.44,280.8 V283.59999999999997" stroke="#222" stroke-width="0.8"/>
<path d="M96.04,290.4 H98.84 M97.44,289.0 V291.79999999999995" stroke="#222" stroke-width="0.8"/>
<path d="M96.04,298.6 H98.84 M97.44,297.20000000000005 V300.0" stroke="#222" stroke-width="0.8"/>
<path d="M96.04,315 H98.84 M97.44,313.6 V316.4" stroke="#222" stroke-width="0.8"/>
<path d="M111.40,282.2 H114.20 M112.80,280.8 V283.59999999999997" stroke="#222" stroke-width="0.8"/>
<path d="M111.40,290.4 H114.20 M112.80,289.0 V291.79999999999995" stroke="#222" stroke-width="0.8"/>
<path d="M111.40,298.6 H114.20 M112.80,297.20000000000005 V300.0" stroke="#222" stroke-width="0.8"/>
<path d="M111.40,306.8 H114.20 M112.80,305.40000000000003 V308.2" stroke="#222" stroke-width="0.8"/>
<path d="M126.76,298.6 H129.56 M128.16,297.20000000000005 V300.0" stroke="#222" stroke-width="0.8"/>
<path d="M126.76,306.8 H129.56 M128.16,305.40000000000003 V308.2" stroke="#222" stroke-width="0.8"/>
<path d="M126.76,315 H129.56 M128.16,313.6 V316.4" stroke="#222" stroke-width="0.8"/>
<path d="M142.12,290.4 H144.92 M143.52,289.0 V291.79999999999995" stroke="#222" stroke-width="0.8"/>
<path d="M142.12,306.8 H144.92 M143.52,305.40000000000003 V308.2" stroke="#222" stroke-width="0.8"/>
<path d="M142.12,315 H144.92 M143.52,313.6 V316.4" stroke="#222" stroke-width="0.8"/>
<path d="M157.48,282.2 H160.28 M158.88,280.8 V283.59999999999997" stroke="#222" stroke-width="0.8"/>
<path d="M157.48,306.8 H160.28 M158.88,305.40000000000003 V308.2" stroke="#222" stroke-width="0.8"/>
<path d="M157.48,315 H160.28 M158.88,313.6 V316.4" stroke="#222" stroke-width="0.8"/>
<path d="M172.84,290.4 H175.64 M174.24,289.0 V291.79999999999995" stroke="#222" stroke-width="0.8"/>
<path d="M172.84,298.6 H175.64 M174.24,297.20000000000005 V300.0" stroke="#222" stroke-width="0.8"/>
<path d="M172.84,315 H175.64 M174.24,313.6 V316.4" stroke="#222" stroke-width="0.8"/>
<path d="M188.20,282.2 H191.00 M189.60,280.8 V283.59999999999997" stroke="#222" stroke-width="0.8"/>
<path d="M188.20,298.6 H191.00 M189.60,297.20000000000005 V300.0" stroke="#222" stroke-width="0.8"/>
<path d="M188.20,315 H191.00 M189.60,313.6 V316.4" stroke="#222" stroke-width="0.8"/>
<path d="M203.56,282.2 H206.36 M204.96,280.8 V283.59999999999997" stroke="#222" stroke-width="0.8"/>
<path d="M203.56,290.4 H206.36 M204.96,289.0 V291.79999999999995" stroke="#222" stroke-width="0.8"/>
<path d="M203.56,315 H206.36 M204.96,313.6 V316.4" stroke="#222" stroke-width="0.8"/>
<path d="M218.92,290.4 H221.72 M220.32,289.0 V291.79999999999995" stroke="#222" stroke-width="0.8"/>
<path d="M218.92,298.6 H221.72 M220.32,297.20000000000005 V300.0" stroke="#222" stroke-width="0.8"/>
<path d="M218.92,306.8 H221.72 M220.32,305.40000000000003 V308.2" stroke="#222" stroke-width="0.8"/>
<path d="M234.28,282.2 H237.08 M235.68,280.8 V283.59999999999997" stroke="#222" stroke-width="0.8"/>
<path d="M234.28,298.6 H237.08 M235.68,297.20000000000005 V300.0" stroke="#222" stroke-width="0.8"/>
<path d="M234.28,306.8 H237.08 M235.68,305.40000000000003 V308.2" stroke="#222" stroke-width="0.8"/>
<path d="M249.64,282.2 H252.44 M251.04,280.8 V283.59999999999997" stroke="#222" stroke-width="0.8"/>
<path d="M249.64,290.4 H252.44 M251.04,289.0 V291.79999999999995" stroke="#222" stroke-width="0.8"/>
<path d="M249.64,306.8 H252.44 M251.04,305.40000000000003 V308.2" stroke="#222" stroke-width="0.8"/>
<path d="M265.00,282.2 H267.80 M266.40,280.8 V283.59999999999997" stroke="#222" stroke-width="0.8"/>
<path d="M265.00,290.4 H267.80 M266.40,289.0 V291.79999999999995" stroke="#222" stroke-width="0.8"/>
<path d="M265.00,298.6 H267.80 M266.40,297.20000000000005 V300.0" stroke="#222" stroke-width="0.8"/>
<path d="M280.36,306.8 H283.16 M281.76,305.40000000000003 V308.2" stroke="#222" stroke-width="0.8"/>
<path d="M280.36,315 H283.16 M281.76,313.6 V316.4" stroke="#222" stroke-width="0.8"/>
<path d="M295.72,298.6 H298.52 M297.12,297.20000000000005 V300.0" stroke="#222" stroke-width="0.8"/>
<path d="M295.72,315 H298.52 M297.12,313.6 V316.4" stroke="#222" stroke-width="0.8"/>
<path d="M311.08,290.4 H313.88 M312.48,289.0 V291.79999999999995" stroke="#222" stroke-width="0.8"/>
<path d="M311.08,315 H313.88 M312.48,313.6 V316.4" stroke="#222" stroke-width="0.8"/>
<path d="M326.44,282.2 H329.24 M327.84,280.8 V283.59999999999997" stroke="#222" stroke-width="0.8"/>
<path d="M326.44,315 H329.24 M327.84,313.6 V316.4" stroke="#222" stroke-width="0.8"/>
<path d="M341.80,298.6 H344.60 M343.20,297.20000000000005 V300.0" stroke="#222" stroke-width="0.8"/>
<path d="M341.80,306.8 H344.60 M343.20,305.40000000000003 V308.2" stroke="#222" stroke-width="0.8"/>
<path d="M357.16,290.4 H359.96 M358.56,289.0 V291.79999999999995" stroke="#222" stroke-width="0.8"/>
<path d="M357.16,306.8 H359.96 M358.56,305.40000000000003 V308.2" stroke="#222" stroke-width="0.8"/>
<path d="M372.52,282.2 H375.32 M373.92,280.8 V283.59999999999997" stroke="#222" stroke-width="0.8"/>
<path d="M372.52,306.8 H375.32 M373.92,305.40000000000003 V308.2" stroke="#222" stroke-width="0.8"/>
<path d="M387.88,290.4 H390.68 M389.28,289.0 V291.79999999999995" stroke="#222" stroke-width="0.8"/>
<path d="M387.88,298.6 H390.68 M389.28,297.20000000000005 V300.0" stroke="#222" stroke-width="0.8"/>
<path d="M403.24,282.2 H406.04 M404.64,280.8 V283.59999999999997" stroke="#222" stroke-width="0.8"/>
<path d="M403.24,298.6 H406.04 M404.64,297.20000000000005 V300.0" stroke="#222" stroke-width="0.8"/>
<path d="M418.60,282.2 H421.40 M420.00,280.8 V283.59999999999997" stroke="#222" stroke-width="0.8"/>
<path d="M418.60,290.4 H421.40 M420.00,289.0 V291.79999999999995" stroke="#222" stroke-width="0.8"/>
<path d="M433.96,315 H436.76 M435.36,313.6 V316.4" stroke="#222" stroke-width="0.8"/>
<path d="M449.32,306.8 H452.12 M450.72,305.40000000000003 V308.2" stroke="#222" stroke-width="0.8"/>
<path d="M464.68,298.6 H467.48 M466.08,297.20000000000005 V300.0" stroke="#222" stroke-width="0.8"/>
<path d="M480.04,290.4 H482.84 M481.44,289.0 V291.79999999999995" stroke="#222" stroke-width="0.8"/>
<path d="M495.40,282.2 H498.20 M496.80,280.8 V283.59999999999997" stroke="#222" stroke-width="0.8"/>
<rect x="32" y="321.4" width="9.8" height="4.5" fill="#000"/>
<rect x="45.5" y="321.4" width="72.8" height="4.5" fill="#9A00B4"/>
<rect x="122.5" y="321.4" width="148.5" height="4.5" fill="#0400A8"/>
<rect x="275.3" y="321.4" width="152.2" height="4.5" fill="#4B80F4"/>
<rect x="432" y="321.4" width="68" height="4.5" fill="#7CCFAA"/>
</svg></body></html>
